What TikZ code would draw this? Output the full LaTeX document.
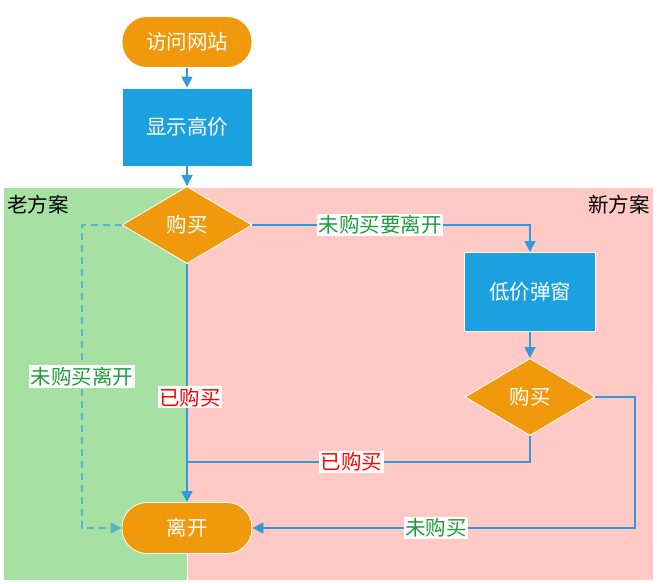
\documentclass[tikz,border=0pt]{standalone}
\usepackage{fontspec}
\newfontfamily\cjk{Noto Sans CJK SC}
\usetikzlibrary{shapes.geometric,arrows.meta}
\definecolor{orangeF}{HTML}{F0990C}
\definecolor{blueF}{HTML}{1CA1E0}
\definecolor{laneG}{HTML}{A6E0A3}
\definecolor{laneP}{HTML}{FFC9C5}
\definecolor{lineB}{HTML}{3399D8}
\definecolor{dashC}{HTML}{5AB4C8}
\definecolor{lblG}{HTML}{1E9E3C}
\definecolor{lblR}{HTML}{FF0000}
\begin{document}
\begin{tikzpicture}[x=1pt,y=-1pt,
  txt/.style={font=\cjk\fontsize{20.5}{24}\selectfont},
  pill/.style={txt, text=white, fill=orangeF, draw=white, line width=0.8pt, rounded corners=25pt, minimum width=130pt, minimum height=51pt, inner sep=0pt},
  box/.style={txt, text=white, fill=blueF, draw=white, line width=0.8pt, minimum width=130pt, minimum height=78pt, inner sep=0pt},
  dec/.style={txt, text=white, fill=orangeF, draw=white, line width=0.8pt, diamond, minimum width=130pt, minimum height=77pt, inner sep=0pt},
  lbl/.style={txt, fill=white, inner sep=1.5pt},
  lane/.style={draw=white, line width=0.8pt},
  conn/.style={draw=lineB, line width=1.1pt},
  arr/.style={conn, -{Triangle[length=11pt,width=11pt]}},
  dasharr/.style={draw=dashC, line width=1.3pt, dash pattern=on 7pt off 5pt, -{Triangle[length=11pt,width=11pt]}}]
\useasboundingbox (0,0) rectangle (657,584);
% lanes
\fill[laneG, lane] (3,187) rectangle (187,580);
\fill[laneP, lane] (187,187) rectangle (653,580);
\node[txt, anchor=west, inner sep=0pt] (oldt) at (7,205) {老方案};
\node[txt, anchor=east, inner sep=0pt] (newt) at (650,205) {新方案};
% nodes
\node[pill] (start) at (187,42) {访问网站};
\node[box] (show) at (187,127) {显示高价};
\node[dec] (d1) at (187,225) {购买};
\node[box, minimum width=131pt, minimum height=79pt] (low) at (530,292) {低价弹窗};
\node[dec] (d2) at (530,397) {购买};
\node[pill] (leave) at (187,528) {离开};
\coordinate (c1) at (82,225);
\coordinate (c2) at (635,397);
\coordinate (j1) at (187,462);
% connectors
\draw[arr] (start) -- (show);
\draw[arr] (show) -- (d1);
\draw[arr] (d1.east) -- node[lbl, text=lblG, pos=0.46] {未购买要离开} (d1.east -| low.north) -- (low.north);
\draw[arr] (low) -- (d2);
\draw[arr] (d1.south) -- node[lbl, text=lblR, pos=0.56, xshift=3pt] {已购买} (leave.north);
\draw[conn] (d2.south) |- node[lbl, text=lblR, pos=0.76] {已购买} (j1);
\draw[arr] (d2.east) -- (c2) |- node[lbl, text=lblG, pos=0.76] {未购买} (leave.east);
\draw[dasharr] (d1.west) -- (c1) |- node[lbl, text=lblG, pos=0.25] {未购买离开} (leave.west);
\end{tikzpicture}
\end{document}
